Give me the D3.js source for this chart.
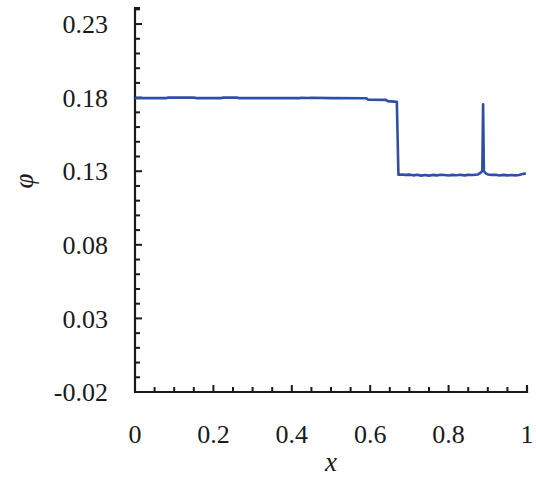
<!DOCTYPE html>
<html>
<head>
<meta charset="utf-8">
<script src="https://cdn.jsdelivr.net/npm/d3@7"></script>
<style>
  body { margin: 0; background: #fff; }
</style>
</head>
<body>
<div id="chart"></div>
<script>
// data
var xs = [0, 0.08, 0.085, 0.15, 0.155, 0.20, 0.22, 0.225, 0.26, 0.265, 0.42, 0.425, 0.44, 0.45, 0.50, 0.59, 0.595, 0.64, 0.645, 0.668,
          0.672, 0.68, 0.69, 0.70, 0.71, 0.72, 0.73, 0.74, 0.75, 0.76, 0.77, 0.78, 0.79, 0.80, 0.81, 0.82, 0.83, 0.84, 0.85, 0.86, 0.875,
          0.882, 0.886, 0.888, 0.890, 0.895, 0.90, 0.91, 0.92, 0.93, 0.94, 0.95, 0.96, 0.97, 0.98, 0.99, 0.997];
var phi = [0.1797, 0.1797, 0.1800, 0.1800, 0.1797, 0.1797, 0.1797, 0.1800, 0.1800, 0.1797, 0.1797, 0.1799, 0.1797, 0.1799, 0.1797, 0.1796, 0.1786, 0.1785, 0.1776, 0.1771,
           0.1276, 0.1278, 0.1275, 0.1277, 0.1272, 0.1276, 0.1270, 0.1274, 0.1270, 0.1275, 0.1272, 0.1276, 0.1274, 0.1271, 0.1275, 0.1273, 0.1276, 0.1272, 0.1275, 0.1274, 0.1278,
           0.1290, 0.1302, 0.1755, 0.1302, 0.1285, 0.1278, 0.1275, 0.1276, 0.1271, 0.1275, 0.1272, 0.1274, 0.1272, 0.1274, 0.1282, 0.1284];
var xTicks = [0, 0.2, 0.4, 0.6, 0.8, 1];
var yTicks = [-0.02, 0.03, 0.08, 0.13, 0.18, 0.23];

(function() {
  var width = 536, height = 479;
  var mLeft = 135, mRight = 527, mTop = 8, mBottom = 392;
  var font = "'Liberation Serif', 'Times New Roman', serif";
  var axisColor = "#1a1a1a";

  var svg = d3.select("#chart").append("svg")
    .attr("width", width)
    .attr("height", height);

  var x = d3.scaleLinear().domain([0, 1]).range([mLeft, mRight]);
  var y = d3.scaleLinear().domain([-0.02, 0.2409]).range([mBottom, mTop]);

  // minor ticks (drawn inward)
  var xMinor = d3.range(0, 1.0001, 0.05);
  var yMinor = d3.range(-0.02, 0.2401, 0.01);
  function isMajor(list, d) { return list.some(function(t){ return Math.abs(t - d) < 1e-6; }); }

  var g = svg.append("g");

  g.selectAll(".xminor").data(xMinor).enter().append("line")
    .attr("x1", function(d){ return x(d); })
    .attr("x2", function(d){ return x(d); })
    .attr("y1", mBottom)
    .attr("y2", function(d){ return isMajor(xTicks, d) ? mBottom - 7 : mBottom - 5; })
    .attr("stroke", axisColor).attr("stroke-width", 2);

  g.selectAll(".yminor").data(yMinor).enter().append("line")
    .attr("y1", function(d){ return y(d); })
    .attr("y2", function(d){ return y(d); })
    .attr("x1", mLeft)
    .attr("x2", function(d){ return isMajor(yTicks, d) ? mLeft + 7 : mLeft + 5; })
    .attr("stroke", axisColor).attr("stroke-width", 2);

  // axis lines
  g.append("path")
    .attr("d", "M" + (mLeft + 5) + "," + mTop + "H" + mLeft + "V" + mBottom + "H" + mRight + "V" + (mBottom - 7))
    .attr("fill", "none").attr("stroke", axisColor).attr("stroke-width", 2.2);

  // tick labels
  g.selectAll(".ylab").data(yTicks).enter().append("text")
    .attr("x", mLeft - 27)
    .attr("y", function(d){ return y(d); })
    .attr("dy", "0.35em")
    .attr("text-anchor", "end")
    .attr("font-family", font)
    .attr("font-size", 26)
    .attr("fill", axisColor)
    .text(function(d){ return d3.format(".2f")(d).replace("\u2212", "-"); });

  g.selectAll(".xlab").data(xTicks).enter().append("text")
    .attr("x", function(d){ return x(d); })
    .attr("y", 443)
    .attr("text-anchor", "middle")
    .attr("font-family", font)
    .attr("font-size", 26)
    .attr("fill", axisColor)
    .text(function(d){ return d === 0 || d === 1 ? String(d) : d3.format(".1f")(d); });

  // axis titles
  svg.append("text")
    .attr("x", (mLeft + mRight) / 2)
    .attr("y", 471)
    .attr("text-anchor", "middle")
    .attr("font-family", font)
    .attr("font-size", 27)
    .attr("font-style", "italic")
    .attr("fill", axisColor)
    .text("x");

  svg.append("text")
    .attr("transform", "translate(33,181) rotate(-90)")
    .attr("text-anchor", "middle")
    .attr("font-family", font)
    .attr("font-size", 27)
    .attr("font-style", "italic")
    .attr("fill", axisColor)
    .text("φ");

  // data line
  var line = d3.line()
    .x(function(d, i){ return x(xs[i]); })
    .y(function(d){ return y(d); });

  svg.append("path")
    .datum(phi)
    .attr("d", line)
    .attr("fill", "none")
    .attr("stroke", "#2f4ea5")
    .attr("stroke-width", 2.6)
    .attr("stroke-linejoin", "round");
})();
</script>
</body>
</html>
